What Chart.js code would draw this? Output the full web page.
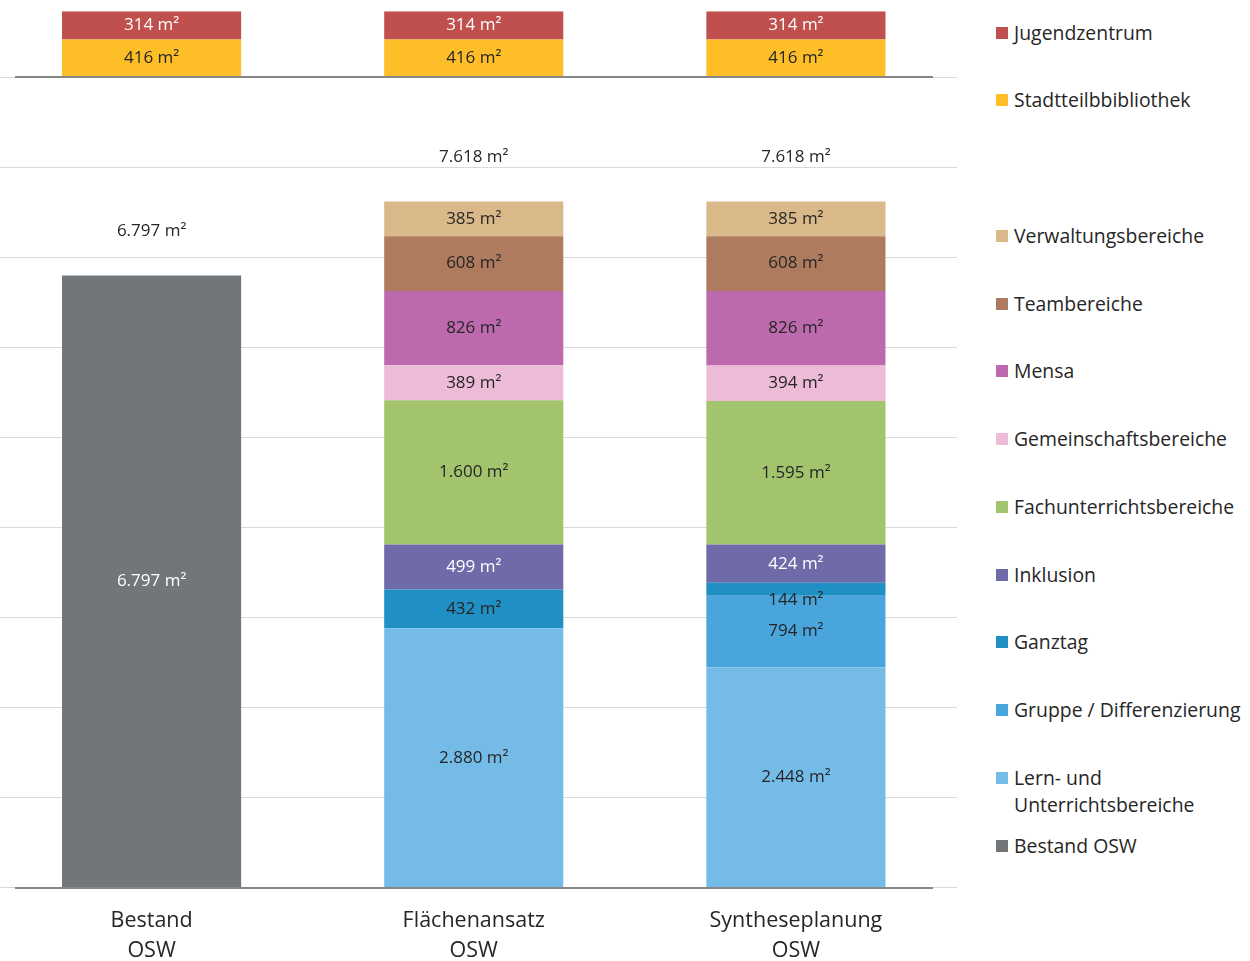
<!DOCTYPE html>
<html lang="de">
<head>
<meta charset="utf-8">
<script src="https://cdn.jsdelivr.net/npm/chart.js@4.4.1/dist/chart.umd.min.js"></script>
<style>
html, body { margin: 0; padding: 0; background: #fff; width: 1250px; height: 961px; overflow: hidden; font-family: 'Open Sans', sans-serif; }
#wrap { position: absolute; left: -30px; top: 0; width: 987px; height: 999px; }
#legend { position: absolute; left: 996px; top: 0; }
.item { position: absolute; left: 0; white-space: pre; font-size: 19.4px; line-height: 27px; color: #262626; padding-left: 18px; }
.item i { position: absolute; left: 0; top: 8px; width: 12px; height: 12px; }
</style>
</head>
<body>
<div id="wrap"><canvas id="chart"></canvas></div>
<div id="legend"></div>
<script>
var CATEGORIES = [['Bestand', 'OSW'], ['Flächenansatz', 'OSW'], ['Syntheseplanung', 'OSW']];

// lower stack (school areas), bottom to top
var BESTAND      = [6797, null, null];
var LERN         = [null, 2880, 2448];
var GRUPPE       = [null, null, 794];
var GANZTAG      = [null, 432, 144];
var INKLUSION    = [null, 499, 424];
var FACH         = [null, 1600, 1595];
var GEMEINSCHAFT = [null, 389, 394];
var MENSA        = [null, 826, 826];
var TEAM         = [null, 608, 608];
var VERWALTUNG   = [null, 385, 385];

// upper stack (separate uses), starts at TOP_BASE
var BIBLIOTHEK   = [416, 416, 416];
var JUGEND       = [314, 314, 314];

var TOTALS = [6797, 7618, 7618];
var TOP_BASE = 9000;
var Y_STEP = 1000;

var TEXT_DARK = '#262626';

function fmt(n) {
  return String(n).replace(/\B(?=(\d{3})+(?!\d))/g, '.');
}

function bar(label, data, color, labelColor) {
  return { label: label, data: data, backgroundColor: color, labelColor: labelColor || TEXT_DARK,
           categoryPercentage: 1, barPercentage: 0.556, borderWidth: 0 };
}

var lower = [
  bar('Bestand OSW', BESTAND, '#737678', '#ffffff'),
  bar('Lern- und\nUnterrichtsbereiche', LERN, '#74BCE7'),
  bar('Gruppe / Differenzierung', GRUPPE, '#4AA5DD'),
  bar('Ganztag', GANZTAG, '#1F8FC4'),
  bar('Inklusion', INKLUSION, '#6F6BA9', '#ffffff'),
  bar('Fachunterrichtsbereiche', FACH, '#A2C46C'),
  bar('Gemeinschaftsbereiche', GEMEINSCHAFT, '#EDBAD7'),
  bar('Mensa', MENSA, '#BD69AD'),
  bar('Teambereiche', TEAM, '#AE7B5E'),
  bar('Verwaltungsbereiche', VERWALTUNG, '#D9B98A')
];

var lowerSums = CATEGORIES.map(function(c, i) {
  return lower.reduce(function(s, ds) { return s + (ds.data[i] || 0); }, 0);
});

var spacer = bar('', lowerSums.map(function(s) { return TOP_BASE - s; }), 'rgba(0,0,0,0)');
spacer.isSpacer = true;

var upper = [
  bar('Stadtteilbbibliothek', BIBLIOTHEK, '#FDBE28'),
  bar('Jugendzentrum', JUGEND, '#C0504D', '#ffffff')
];

var yMax = TOP_BASE + BIBLIOTHEK[0] + JUGEND[0];

var barLabels = {
  id: 'barLabels',
  afterDatasetsDraw: function(chart) {
    var ctx = chart.ctx;
    ctx.save();
    ctx.font = '17px "Open Sans"';
    ctx.textAlign = 'center';
    ctx.textBaseline = 'middle';
    chart.data.datasets.forEach(function(ds, di) {
      var meta = chart.getDatasetMeta(di);
      meta.data.forEach(function(el, i) {
        if (ds.data[i] == null) return;
        if (ds.isSpacer) {
          ctx.fillStyle = TEXT_DARK;
          ctx.fillText(fmt(TOTALS[i]) + ' m²', el.x, el.base - 44);
          return;
        }
        var h = Math.abs(el.base - el.y);
        // thin segments: label sits just below the segment
        var ly = h < 18 ? el.base + 4 : (el.y + el.base) / 2;
        ctx.fillStyle = ds.labelColor;
        ctx.fillText(fmt(ds.data[i]) + ' m²', el.x, ly);
      });
    });
    ctx.restore();
  }
};

// darker base lines under both stacks
var baseLines = {
  id: 'baseLines',
  afterDatasetsDraw: function(chart) {
    var y = chart.scales.y, ctx = chart.ctx;
    ctx.save();
    ctx.strokeStyle = '#868686';
    ctx.lineWidth = 2;
    [0, TOP_BASE].forEach(function(v) {
      var py = Math.round(y.getPixelForValue(v));
      ctx.beginPath();
      ctx.moveTo(45, py);
      ctx.lineTo(963, py);
      ctx.stroke();
    });
    ctx.restore();
  }
};

var chart = new Chart(document.getElementById('chart').getContext('2d'), {
  type: 'bar',
  data: { labels: CATEGORIES, datasets: lower.concat([spacer], upper) },
  options: {
    responsive: true,
    maintainAspectRatio: false,
    animation: false,
    layout: { padding: { left: 20.5, right: 0, top: 11.3, bottom: 15 } },
    plugins: { legend: { display: false }, tooltip: { enabled: false } },
    scales: {
      x: {
        stacked: true,
        grid: { display: false, drawTicks: false },
        border: { display: false },
        ticks: { font: { family: 'Open Sans', size: 21.5, lineHeight: 1.4 }, color: TEXT_DARK, padding: 18, maxRotation: 0 }
      },
      y: {
        stacked: true,
        min: 0,
        max: yMax,
        border: { display: false },
        grid: { drawTicks: false, color: '#D9D9D9' },
        ticks: { display: false },
        afterBuildTicks: function(axis) {
          var t = [];
          for (var v = 0; v <= TOP_BASE; v += Y_STEP) t.push({ value: v });
          axis.ticks = t;
        }
      }
    }
  },
  plugins: [barLabels, baseLines]
});

// legend: reversed dataset order, the blank spacer keeps an empty slot
var legendEl = document.getElementById('legend');
chart.data.datasets.slice().reverse().forEach(function(ds, k) {
  if (!ds.label) return;
  var d = document.createElement('div');
  d.className = 'item';
  d.style.top = (32 + k * 67.75 - 13.5) + 'px';
  var sw = document.createElement('i');
  sw.style.background = ds.backgroundColor;
  d.appendChild(sw);
  d.appendChild(document.createTextNode(ds.label));
  legendEl.appendChild(d);
});
</script>
</body>
</html>
